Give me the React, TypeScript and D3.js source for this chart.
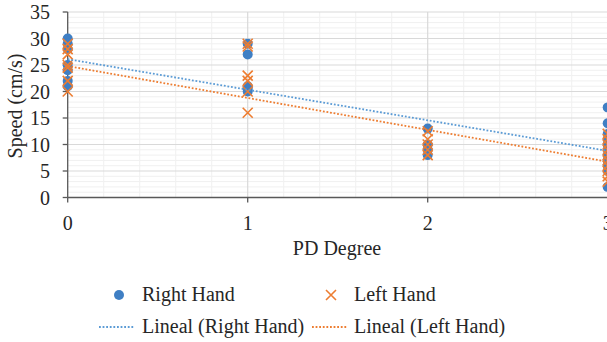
import React from 'react';
import * as d3 from 'd3';

// PD degree categories (x positions)
const degrees = [0, 1, 2, 3];
// Speed values (cm/s) per degree, Right Hand
const rightHand: number[][] = [
  [30, 29, 28, 25, 24, 22, 21],
  [29, 27, 21, 20.5, 20],
  [13, 10, 9, 8],
  [17, 14, 12, 11, 10, 9, 8, 7, 6, 5, 2],
];
// Speed values (cm/s) per degree, Left Hand
const leftHand: number[][] = [
  [29, 28, 27, 25, 24.5, 22, 20],
  [29, 28.5, 23, 22, 20, 16],
  [12.5, 11, 10, 9, 8],
  [12, 11, 10, 9, 8, 7, 6, 5, 4, 3],
];
// Linear trendline values read at x = 0 and x = 3
const trendRight = [26.1, 8.8];
const trendLeft = [24.8, 6.75];
const yTicks = [0, 5, 10, 15, 20, 25, 30, 35];
const xTicks = [0, 1, 2, 3];

const BLUE = '#3f7fc4';
const BLUE_LINE = '#5b9bd5';
const ORANGE = '#ed7d31';
const FONT = 'Liberation Serif';
const TXT = '#262626';

function T(props: { x: number; y: number; anchor?: string; transform?: string; children: React.ReactNode }) {
  return (
    <text x={props.x} y={props.y} transform={props.transform} textAnchor={props.anchor || 'start'}
      fill={TXT} style={{ fontFamily: FONT, fontSize: '20px' }}>
      {props.children}
    </text>
  );
}

export default function App() {
  const W = 607, H = 342;
  const x = d3.scaleLinear().domain([0, 3]).range([67.7, 607.7]);
  const y = d3.scaleLinear().domain([0, 35]).range([197.5, 12]);

  const minorX = d3.range(0, 3.0001, 0.2).filter((v) => Math.abs(v - Math.round(v)) > 1e-6);
  const minorY = d3.range(0, 35.0001, 1).filter((v) => v % 5 !== 0);
  const line = d3.line<[number, number]>().x((d) => x(d[0])).y((d) => y(d[1]));

  const rightPts = rightHand.flatMap((vals, i) => vals.map((v) => [degrees[i], v] as [number, number]));
  const leftPts = leftHand.flatMap((vals, i) => vals.map((v) => [degrees[i], v] as [number, number]));

  const xs = 5;
  const cross = (cx: number, cy: number, k: string) => (
    <path key={k} d={`M${cx - xs},${cy - xs}L${cx + xs},${cy + xs}M${cx - xs},${cy + xs}L${cx + xs},${cy - xs}`}
      stroke={ORANGE} strokeWidth={1.6} fill="none" />
  );

  return (
    <svg width={W} height={H} style={{ position: 'absolute', left: 0, top: 0, background: '#fff' }}>
      <rect width={W} height={H} fill="#fff" />
      {/* minor grid */}
      {minorY.map((v) => (
        <line key={'my' + v} x1={x(0)} x2={W} y1={y(v)} y2={y(v)} stroke="#f0f0f0" strokeWidth={1} />
      ))}
      {minorX.map((v) => (
        <line key={'mx' + v} x1={x(v)} x2={x(v)} y1={y(35)} y2={y(0)} stroke="#f0f0f0" strokeWidth={1} />
      ))}
      {/* major grid */}
      {yTicks.filter((v) => v > 0).map((v) => (
        <line key={'gy' + v} x1={x(0)} x2={W} y1={y(v)} y2={y(v)} stroke="#d9d9d9" strokeWidth={1.2} />
      ))}
      {xTicks.filter((v) => v > 0).map((v) => (
        <line key={'gx' + v} x1={x(v)} x2={x(v)} y1={y(35)} y2={y(0)} stroke="#d9d9d9" strokeWidth={1.2} />
      ))}
      {/* axes */}
      <line x1={x(0)} x2={x(0)} y1={y(35)} y2={y(0)} stroke="#595959" strokeWidth={1.3} />
      <line x1={x(0)} x2={W} y1={y(0)} y2={y(0)} stroke="#595959" strokeWidth={1.3} />
      {yTicks.map((v) => (
        <g key={'yt' + v}>
          <line x1={x(0) - 5} x2={x(0)} y1={y(v)} y2={y(v)} stroke="#595959" strokeWidth={1.3} />
          <T x={50} y={y(v) + 7} anchor="end">{v}</T>
        </g>
      ))}
      {xTicks.map((v) => (
        <g key={'xt' + v}>
          <line x1={x(v)} x2={x(v)} y1={y(0)} y2={y(0) + 5} stroke="#595959" strokeWidth={1.3} />
          <T x={x(v)} y={230} anchor="middle">{v}</T>
        </g>
      ))}
      <T x={337} y={255} anchor="middle">PD Degree</T>
      <T x={0} y={0} transform="translate(22,106) rotate(-90)" anchor="middle">Speed (cm/s)</T>

      {/* markers */}
      {rightPts.map((p, i) => (
        <circle key={'r' + i} cx={x(p[0])} cy={y(p[1])} r={5} fill={BLUE} />
      ))}
      {leftPts.map((p, i) => cross(x(p[0]), y(p[1]), 'l' + i))}

      {/* trendlines */}
      <path d={line([[0, trendRight[0]], [3, trendRight[1]]]) || ''} stroke={BLUE_LINE} strokeWidth={1.8}
        strokeDasharray="1.8 1.8" fill="none" />
      <path d={line([[0, trendLeft[0]], [3, trendLeft[1]]]) || ''} stroke={ORANGE} strokeWidth={1.8}
        strokeDasharray="1.8 1.8" fill="none" />

      {/* legend */}
      <circle cx={119} cy={295} r={5} fill={BLUE} />
      <T x={142} y={301}>Right Hand</T>
      {cross(331, 295, 'lg')}
      <T x={354} y={301}>Left Hand</T>
      <line x1={99} x2={135} y1={327} y2={327} stroke={BLUE_LINE} strokeWidth={1.8} strokeDasharray="1.8 1.8" />
      <T x={142} y={333}>Lineal (Right Hand)</T>
      <line x1={312} x2={347} y1={327} y2={327} stroke={ORANGE} strokeWidth={1.8} strokeDasharray="1.8 1.8" />
      <T x={354} y={333}>Lineal (Left Hand)</T>
    </svg>
  );
}
